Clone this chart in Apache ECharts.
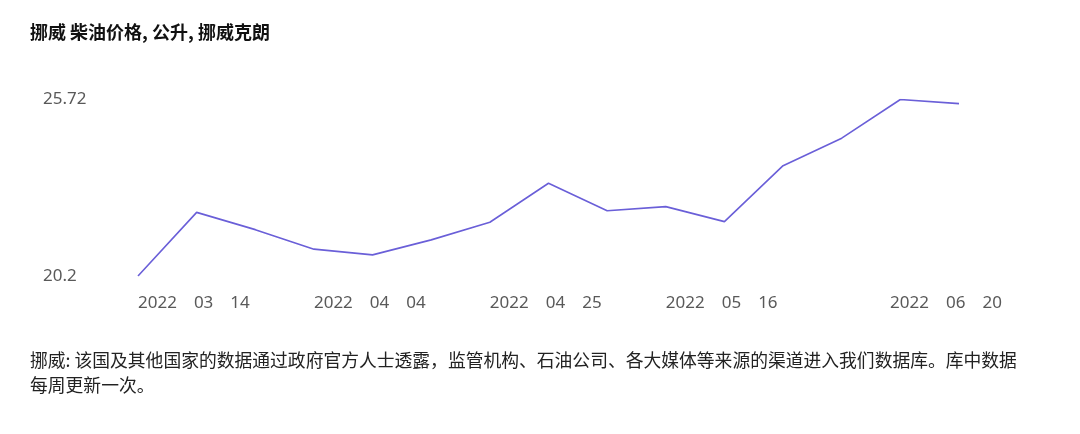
<!DOCTYPE html>
<html>
<head>
<meta charset="utf-8">
<script src="https://cdn.jsdelivr.net/npm/echarts@6/dist/echarts.min.js"></script>
<style>
  html, body { margin: 0; padding: 0; background: #fff; }
  #chart { width: 1080px; height: 434px; }
</style>
</head>
<body>
<div id="chart"></div>
<script>
// 每周柴油价格（挪威克朗/公升）
var dates = ['2022-03-14', '2022-03-21', '2022-03-28', '2022-04-04', '2022-04-11',
    '2022-04-18', '2022-04-25', '2022-05-02', '2022-05-09', '2022-05-16',
    '2022-05-23', '2022-05-30', '2022-06-06', '2022-06-13', '2022-06-20'];
var prices = [20.2, 22.19, 21.65, 21.04, 20.86, 21.33, 21.88, 23.1, 22.24, 22.37,
    21.9, 23.65, 24.51, 25.72, 25.59];
var yTicks = [20.2, 25.72];
var shownIdx = [0, 3, 6, 9, 14];

var titleText = '挪威 柴油价格, 公升, 挪威克朗';
var noteText = '挪威: 该国及其他国家的数据通过政府官方人士透露，监管机构、石油公司、各大媒体等来源的渠道进入我们数据库。库中数据\n每周更新一次。';

var chart = echarts.init(document.getElementById('chart'));

var lastIdx = dates.length - 1;
var xData = dates.map(function (d, i) {
    // 最后一个标签往回收一点，避免超出
    return i === lastIdx ? { value: d, textStyle: { align: 'center' } } : d;
});

var option = {
    animation: false,
    backgroundColor: '#fff',
    title: {
        text: titleText,
        left: 30,
        top: 23,
        padding: 0,
        textStyle: {
            fontFamily: 'Noto Sans CJK SC',
            fontSize: 18,
            fontWeight: 'bold',
            color: '#111'
        }
    },
    graphic: [{
        type: 'text',
        left: 30,
        top: 348,
        style: {
            text: noteText,
            font: '17.8px "Noto Sans CJK SC"',
            lineHeight: 25,
            fill: '#222'
        }
    }],
    grid: {
        left: 138,
        right: 121,
        top: 99.5,
        bottom: 158,
        outerBoundsMode: 'none'
    },
    xAxis: {
        type: 'category',
        boundaryGap: false,
        data: xData,
        axisLine: { show: false },
        axisTick: { show: false },
        axisLabel: {
            interval: function (i) { return shownIdx.indexOf(i) >= 0; },
            align: 'left',
            margin: 19,
            color: '#595959',
            fontFamily: 'Noto Sans',
            fontSize: 17,
            formatter: function (v, i) {
                var s = v.split('-').join('\u2003');
                return i === lastIdx ? '{last|' + s + '}' : s;
            },
            rich: {
                last: {
                    padding: [0, 26, 0, 0],
                    color: '#595959',
                    fontFamily: 'Noto Sans',
                    fontSize: 17
                }
            }
        }
    },
    yAxis: {
        type: 'value',
        min: 20.2,
        max: 25.72,
        axisLine: { show: false },
        axisTick: { show: false },
        splitLine: { show: false },
        axisLabel: {
            customValues: yTicks,
            align: 'left',
            margin: 95,
            color: '#595959',
            fontFamily: 'Noto Sans',
            fontSize: 17,
            formatter: function (v) { return String(v); }
        }
    },
    series: [{
        type: 'line',
        data: prices,
        symbol: 'none',
        lineStyle: { color: '#6a5fd8', width: 1.6 }
    }]
};

chart.setOption(option);
</script>
</body>
</html>
